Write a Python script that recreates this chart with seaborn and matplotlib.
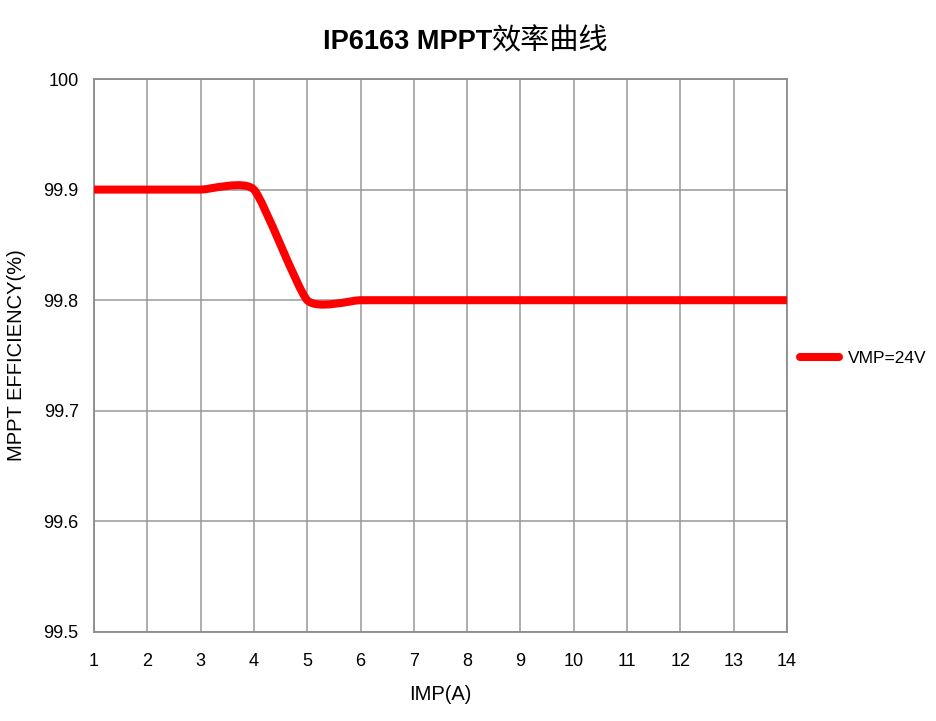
import numpy as np
import pandas as pd
import matplotlib
matplotlib.use('Agg')
import matplotlib.pyplot as plt
import seaborn as sns
from matplotlib import font_manager
from matplotlib.path import Path
from matplotlib.patches import PathPatch
from matplotlib.lines import Line2D

imp = [1, 2, 3, 4, 5, 6, 7, 8, 9, 10, 11, 12, 13, 14]
eff = [99.9, 99.9, 99.9, 99.9, 99.8, 99.8, 99.8, 99.8, 99.8, 99.8, 99.8, 99.8, 99.8, 99.8]
y_ticks = [99.5, 99.6, 99.7, 99.8, 99.9, 100.0]
y_tick_labels = ['99.5', '99.6', '99.7', '99.8', '99.9', '100']
series_name = 'VMP=24V'

sns.set_style('white')
plt.rcParams['font.family'] = ['Liberation Sans', 'DejaVu Sans']
plt.rcParams['text.color'] = 'black'
plt.rcParams['axes.labelcolor'] = 'black'
plt.rcParams['xtick.color'] = 'black'
plt.rcParams['ytick.color'] = 'black'

df = pd.DataFrame({'IMP(A)': imp, 'eff': eff})

fig = plt.figure(figsize=(9.36, 7.21), dpi=100)
ax = fig.add_axes([94 / 936, 1 - 632 / 721, (787 - 94) / 936, (632 - 79) / 721])

sns.lineplot(data=df, x='IMP(A)', y='eff', ax=ax, color='red')
ax.lines[0].set_visible(False)

# smooth the line like the spreadsheet does (bezier through the points)
k = 0.09
pts = np.column_stack([imp, eff]).astype(float)
verts = [tuple(pts[0])]
codes = [Path.MOVETO]
n = len(pts)
for i in range(n - 1):
    p0 = pts[max(i - 1, 0)]
    p1 = pts[i]
    p2 = pts[i + 1]
    p3 = pts[min(i + 2, n - 1)]
    c1 = p1 + k * (p2 - p0)
    c2 = p2 - k * (p3 - p1)
    verts += [tuple(c1), tuple(c2), tuple(p2)]
    codes += [Path.CURVE4] * 3
curve = PathPatch(Path(verts, codes), facecolor='none', edgecolor='#ff0000',
                  lw=5.8, capstyle='round', joinstyle='round', zorder=3)
ax.add_patch(curve)

ax.set_xlim(1, 14)
ax.set_ylim(99.5, 100)
ax.set_xticks(imp)
ax.set_xticklabels([str(v) for v in imp], fontsize=13)
ax.set_yticks(y_ticks)
ax.set_yticklabels(y_tick_labels, fontsize=13)
ax.tick_params(axis='x', length=0, pad=15)
ax.tick_params(axis='y', length=0, pad=11)

ax.grid(True, color='#999999', lw=1.1)
for s in ax.spines.values():
    s.set_color('#8c8c8c')
    s.set_linewidth(1.3)

ax.set_xlabel('IMP(A)', fontsize=14.5)
ax.xaxis.set_label_coords(0.5, (632 - 685) / 553)
ax.set_ylabel('MPPT EFFICIENCY(%)', fontsize=14.5)
ax.yaxis.set_label_coords((26 - 94) / 693, 0.5)

fig.text(492 / 936, 1 - 49 / 721, 'IP6163 MPPT', fontweight='bold',
         fontsize=19.5, ha='right', va='baseline')
fig.text(492 / 936, 1 - 49 / 721, '效率曲线', fontfamily=['Noto Sans CJK SC', 'DejaVu Sans'],
         fontsize=21, ha='left', va='baseline')

handle = Line2D([], [], color='#ff0000', lw=5.8, solid_capstyle='round')
fig.legend([handle], [series_name], loc='center left', frameon=False,
           bbox_to_anchor=(800 / 936, 1 - 358 / 721), borderpad=0, borderaxespad=0,
           handlelength=2.25, handletextpad=0.5, fontsize=12.5)

fig.savefig('out.png', dpi=100, facecolor='white')
